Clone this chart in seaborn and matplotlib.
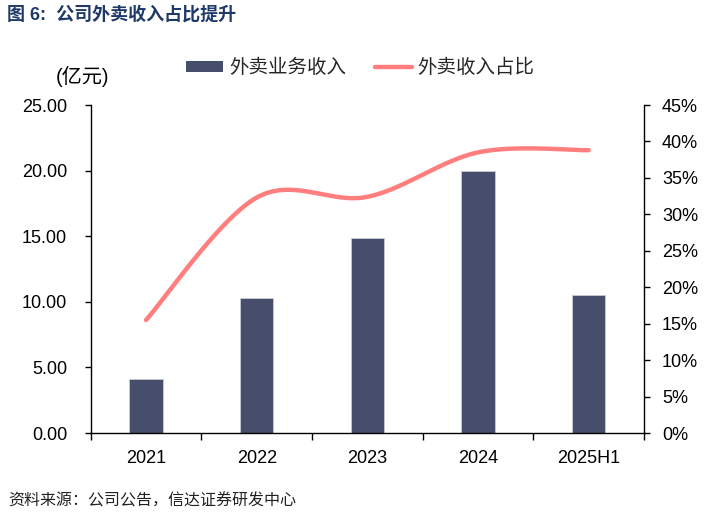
import matplotlib
matplotlib.use("Agg")
import matplotlib.pyplot as plt
import numpy as np
import pandas as pd
import seaborn as sns
from matplotlib.lines import Line2D
from matplotlib.patches import Patch
from matplotlib.ticker import FixedLocator

# data
periods = ["2021", "2022", "2023", "2024", "2025H1"]
revenue = [4.09, 10.27, 14.86, 19.97, 10.54]          # 外卖业务收入 (亿元)
share_pct = [15.5, 32.3, 32.4, 38.5, 38.8]             # 外卖收入占比 (%)
left_ticks = [0, 5, 10, 15, 20, 25]
right_ticks = [0, 5, 10, 15, 20, 25, 30, 35, 40, 45]

bar_color = "#464E6C"
line_color = "#FF7F7F"
title_color = "#1F3A68"

sns.set_theme(style="white")
plt.rcParams["font.family"] = ["Liberation Sans", "Noto Sans CJK SC", "DejaVu Sans"]
plt.rcParams["axes.unicode_minus"] = False

df = pd.DataFrame({"period": periods, "revenue": revenue, "share": share_pct})


def smooth_curve(xs, ys, steps=40):
    # Excel-style smoothed line: cubic Bezier through the points
    xs = np.asarray(xs, float)
    ys = np.asarray(ys, float)
    pts = np.column_stack([xs, ys])
    ext = np.vstack([pts[0], pts, pts[-1]])
    out = []
    t = np.linspace(0, 1, steps)[:, None]
    for i in range(len(pts) - 1):
        p0, p3 = ext[i + 1], ext[i + 2]
        c1 = p0 + (ext[i + 2] - ext[i]) / 6
        c2 = p3 - (ext[i + 3] - ext[i + 1]) / 6
        seg = ((1 - t) ** 3) * p0 + 3 * ((1 - t) ** 2) * t * c1 + 3 * (1 - t) * t ** 2 * c2 + t ** 3 * p3
        out.append(seg if i == 0 else seg[1:])
    seg = np.vstack(out)
    return seg[:, 0], seg[:, 1]


fig = plt.figure(figsize=(7.19, 5.17), dpi=100)
ax = fig.add_axes([90.7 / 719, (517 - 433) / 517, (644 - 90.7) / 719, (433 - 105) / 517])

sns.barplot(data=df, x="period", y="revenue", color=bar_color, width=0.30,
            edgecolor="#C9CCD6", linewidth=0.6, saturation=1, ax=ax)
ax.set_xlim(-0.5, len(periods) - 0.5)
ax.set_ylim(0, 25)
ax.set_yticks(left_ticks)
ax.set_yticklabels([f"{v:.2f}" for v in left_ticks])
ax.set_xlabel("")
ax.set_ylabel("")

ax2 = ax.twinx()
sx, sy = smooth_curve(np.arange(len(periods)), df["share"])
sns.lineplot(x=sx, y=sy, color=line_color, linewidth=3.2, sort=False, ax=ax2,
             solid_capstyle="round")
ax2.set_ylim(0, 45)
ax2.set_yticks(right_ticks)
ax2.set_yticklabels([f"{v}%" for v in right_ticks])
ax2.set_xlim(-0.5, len(periods) - 0.5)

for a in (ax, ax2):
    a.spines["top"].set_visible(False)
    for side in ("left", "bottom", "right"):
        a.spines[side].set_color("black")
        a.spines[side].set_linewidth(1.0)
    a.grid(False)
ax.spines["right"].set_visible(False)
ax2.spines["left"].set_visible(False)
ax2.spines["bottom"].set_visible(False)

ax.tick_params(axis="y", direction="out", length=4, width=1, color="black", pad=13,
               labelsize=13, labelcolor="black", left=True)
ax2.tick_params(axis="y", direction="out", length=4, width=1, color="black", pad=9,
                labelsize=13, labelcolor="black", right=True)
ax.tick_params(axis="x", which="major", length=0, pad=12, labelsize=13, labelcolor="black")
ax.xaxis.set_minor_locator(FixedLocator(np.arange(-0.5, len(periods), 1.0)))
ax.tick_params(axis="x", which="minor", direction="out", length=5, width=1, color="black", bottom=True)

handles = [Patch(facecolor=bar_color, edgecolor="none"),
           Line2D([0], [0], color=line_color, linewidth=3.2)]
fig.legend(handles, ["外卖业务收入", "外卖收入占比"], loc="center left",
           bbox_to_anchor=(186 / 719, 1 - 68 / 517), ncol=2, frameon=False,
           fontsize=14, handlelength=1.9, handleheight=0.47, handletextpad=0.3,
           columnspacing=1.5, borderpad=0, borderaxespad=0)

fig.text(56 / 719, 1 - 76 / 517, "(亿元)", fontsize=14.5, va="center", ha="left", color="black")
fig.text(7 / 719, 1 - 15 / 517, "图 6:  公司外卖收入占比提升", fontsize=13, fontweight="bold",
         color=title_color, va="center", ha="left")
fig.text(8 / 719, 1 - 501 / 517, "资料来源：公司公告，信达证券研发中心", fontsize=11.5,
         color="#222222", va="center", ha="left")

fig.savefig("out.png", dpi=100)
